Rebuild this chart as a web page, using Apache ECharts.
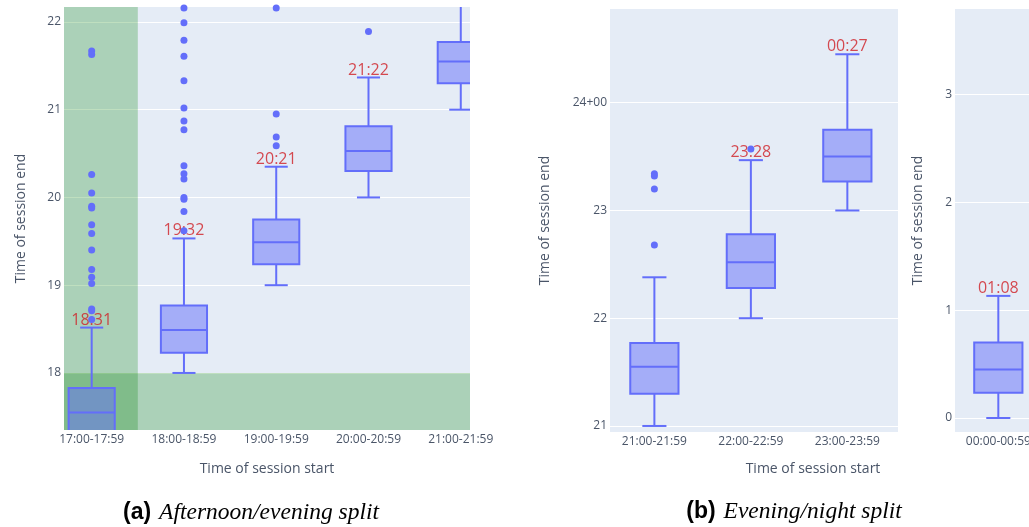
<!DOCTYPE html>
<html>
<head>
<meta charset="utf-8">
<script src="https://cdn.jsdelivr.net/npm/echarts@6/dist/echarts.min.js"></script>
<style>
  html, body { margin: 0; padding: 0; background: #fff; }
  #chart { width: 1029px; height: 527px; }
</style>
</head>
<body>
<div id="chart"></div>
<script>
  // panel (a): afternoon / evening
  var catsA = ['17:00-17:59', '18:00-18:59', '19:00-19:59', '20:00-20:59', '21:00-21:59']
  // [min, q1, median, q3, max] in hours
  var boxA = [
    [17.00, 17.28, 17.55, 17.83, 18.517],
    [18.00, 18.23, 18.49, 18.77, 19.533],
    [19.00, 19.24, 19.49, 19.75, 20.35],
    [20.00, 20.30, 20.53, 20.81, 21.367],
    [21.00, 21.30, 21.55, 21.77, 22.38]
  ]
  var outA = [
    [21.67, 21.63, 20.26, 20.05, 19.90, 19.88, 19.69, 19.59, 19.40, 19.18, 19.09, 19.02, 18.73, 18.71, 18.61],
    [22.16, 21.99, 21.79, 21.61, 21.33, 21.02, 20.87, 20.77, 20.36, 20.27, 20.21, 20.00, 19.98, 19.84, 19.62],
    [22.16, 20.95, 20.69, 20.59],
    [21.89],
    []
  ]
  var maxLabelA = ['18:31', '19:32', '20:21', '21:22', '']
  var ticksA = [18, 19, 20, 21, 22]
  var splitHour = 18   // shaded: starts before 18:00 / ends before 18:00

  // panel (b): evening / night
  var catsB = ['21:00-21:59', '22:00-22:59', '23:00-23:59']
  var boxB = [
    [21.00, 21.30, 21.55, 21.77, 22.38],
    [22.00, 22.28, 22.52, 22.78, 23.467],
    [23.00, 23.27, 23.50, 23.75, 24.45]
  ]
  var outB = [
    [23.34, 23.32, 23.20, 22.68],
    [23.57],
    []
  ]
  var maxLabelB = ['', '23:28', '00:27']
  var ticksB = [21, 22, 23, 24]
  var tickTextB = ['21', '22', '23', '24+00']

  // panel (c): after midnight (cut off)
  var catsC = ['00:00-00:59']
  var boxC = [
    [0.00, 0.234, 0.45, 0.70, 1.133]
  ]
  var outC = [[]]
  var maxLabelC = ['01:08']
  var ticksC = [0, 1, 2, 3]

  var BOX_COLOR = '#636EFA'
  var BOX_FILL = 'rgba(99,110,250,0.5)'
  var LABEL_RED = '#cf1f25'
  var FONT = '"Open Sans", sans-serif'
  var TEXT = '#4a5568'

  function renderBox (params, api) {
    var x = api.value(0)
    var pMin = api.coord([x, api.value(1)])
    var pQ1 = api.coord([x, api.value(2)])
    var pMed = api.coord([x, api.value(3)])
    var pQ3 = api.coord([x, api.value(4)])
    var pMax = api.coord([x, api.value(5)])
    var half = api.size([0.5, 0])[0] / 2
    var cap = half / 2
    var cx = pMed[0]
    var ln = {stroke: BOX_COLOR, lineWidth: 2}
    return {
      type: 'group',
      children: [
        {type: 'line', shape: {x1: cx, y1: pMin[1], x2: cx, y2: pQ1[1]}, style: ln},
        {type: 'line', shape: {x1: cx, y1: pQ3[1], x2: cx, y2: pMax[1]}, style: ln},
        {type: 'line', shape: {x1: cx - cap, y1: pMin[1], x2: cx + cap, y2: pMin[1]}, style: ln},
        {type: 'line', shape: {x1: cx - cap, y1: pMax[1], x2: cx + cap, y2: pMax[1]}, style: ln},
        {type: 'rect', shape: {x: cx - half, y: pQ3[1], width: half * 2, height: pQ1[1] - pQ3[1]},
          style: {fill: BOX_FILL, stroke: BOX_COLOR, lineWidth: 2}},
        {type: 'line', shape: {x1: cx - half, y1: pMed[1], x2: cx + half, y2: pMed[1]}, style: ln}
      ]
    }
  }

  function boxData (stats) {
    return stats.map(function (s, i) { return [i].concat(s) })
  }
  function outlierData (outs) {
    var d = []
    outs.forEach(function (vals, i) {
      vals.forEach(function (v) { d.push([i, v]) })
    })
    return d
  }
  function labelData (stats, labels) {
    var d = []
    labels.forEach(function (t, i) {
      if (t) d.push([i, stats[i][4], t])
    })
    return d
  }

  function xAxisOf (idx, min, max, cats, name) {
    return {
      type: 'value', gridIndex: idx, min: min, max: max,
      axisLine: {show: false}, splitLine: {show: false},
      axisTick: {show: false, customValues: cats.map(function (c, i) { return i })},
      axisLabel: {
        customValues: cats.map(function (c, i) { return i }),
        formatter: function (v) { return cats[Math.round(v)] },
        margin: 4, fontFamily: FONT, fontSize: 12, color: TEXT
      },
      name: name || '', nameLocation: 'middle', nameGap: 32,
      nameTextStyle: {fontFamily: FONT, fontSize: 14, color: TEXT}
    }
  }
  function yAxisOf (idx, min, max, ticks, gap, texts) {
    return {
      type: 'value', gridIndex: idx, min: min, max: max,
      axisLine: {show: false},
      axisTick: {show: false, customValues: ticks},
      splitLine: {show: true, lineStyle: {color: '#fff', width: 1}},
      axisLabel: {
        customValues: ticks,
        formatter: function (v) {
          var k = ticks.indexOf(v)
          return texts && k >= 0 ? texts[k] : String(v)
        },
        margin: 3, fontFamily: FONT, fontSize: 12, color: TEXT
      },
      name: 'Time of session end', nameLocation: 'middle', nameGap: gap,
      nameTextStyle: {fontFamily: FONT, fontSize: 14, color: TEXT}
    }
  }

  function panelSeries (idx, stats, outs, labels, extra) {
    var box = {
      type: 'custom', xAxisIndex: idx, yAxisIndex: idx, clip: true, z: 2,
      renderItem: renderBox,
      encode: {x: 0, y: [1, 2, 3, 4, 5]},
      data: boxData(stats)
    }
    if (extra) box.markArea = extra
    return [
      box,
      {
        type: 'scatter', xAxisIndex: idx, yAxisIndex: idx, z: 3,
        symbolSize: 1, itemStyle: {color: 'rgba(0,0,0,0)'},
        label: {
          show: true, position: 'top', distance: -1,
          formatter: function (p) { return p.data[2] },
          color: LABEL_RED, fontFamily: FONT, fontSize: 16
        },
        data: labelData(stats, labels)
      },
      {
        type: 'scatter', xAxisIndex: idx, yAxisIndex: idx, z: 4,
        symbolSize: 7, itemStyle: {color: BOX_COLOR, opacity: 1},
        data: outlierData(outs)
      }
    ]
  }

  var yMinA = 17.35
  var shade = {
    silent: true,
    itemStyle: {color: 'rgba(0,128,0,0.25)', borderWidth: 0},
    data: [
      [{xAxis: -0.5}, {xAxis: 0.5}],
      [{yAxis: yMinA}, {yAxis: splitHour}]
    ]
  }

  var captionRich = {
    b: {fontFamily: '"Liberation Sans", Arial', fontWeight: 'bold', fontSize: 23, fill: '#000', padding: [0, 8, 0, 0]},
    i: {fontFamily: '"Liberation Serif", "Times New Roman"', fontStyle: 'italic', fontSize: 23.5, fill: '#000'}
  }

  var chart = echarts.init(document.getElementById('chart'))
  chart.setOption({
    animation: false,
    backgroundColor: '#fff',
    grid: [
      {left: 64, top: 7, width: 406, height: 423, show: true, backgroundColor: '#E5ECF6', borderWidth: 0, outerBoundsMode: 'none'},
      {left: 610, top: 9, width: 288, height: 423, show: true, backgroundColor: '#E5ECF6', borderWidth: 0, outerBoundsMode: 'none'},
      {left: 955, top: 9, width: 74, height: 423, show: true, backgroundColor: '#E5ECF6', borderWidth: 0, outerBoundsMode: 'none'}
    ],
    xAxis: [
      xAxisOf(0, -0.3, 4.1, catsA, 'Time of session start'),
      xAxisOf(1, -0.46, 2.525, catsB),
      xAxisOf(2, -0.449, 0.318, catsC)
    ],
    yAxis: [
      yAxisOf(0, yMinA, 22.17, ticksA, 36),
      yAxisOf(1, 20.944, 24.87, ticksB, 58, tickTextB),
      yAxisOf(2, -0.13, 3.795, ticksC, 30)
    ],
    series: []
      .concat(panelSeries(0, boxA, outA, maxLabelA, shade))
      .concat(panelSeries(1, boxB, outB, maxLabelB))
      .concat(panelSeries(2, boxC, outC, maxLabelC)),
    graphic: [
      {
        type: 'text', silent: true, x: 813, y: 469,
        style: {text: 'Time of session start', align: 'center', verticalAlign: 'middle',
          font: '14px "Open Sans"', fill: TEXT}
      },
      {
        type: 'text', silent: true, x: 251, y: 513,
        style: {text: '{b|(a)}{i|Afternoon/evening split}', align: 'center', verticalAlign: 'middle', rich: captionRich}
      },
      {
        type: 'text', silent: true, x: 794, y: 512,
        style: {text: '{b|(b)}{i|Evening/night split}', align: 'center', verticalAlign: 'middle', rich: captionRich}
      }
    ]
  })
</script>
</body>
</html>
